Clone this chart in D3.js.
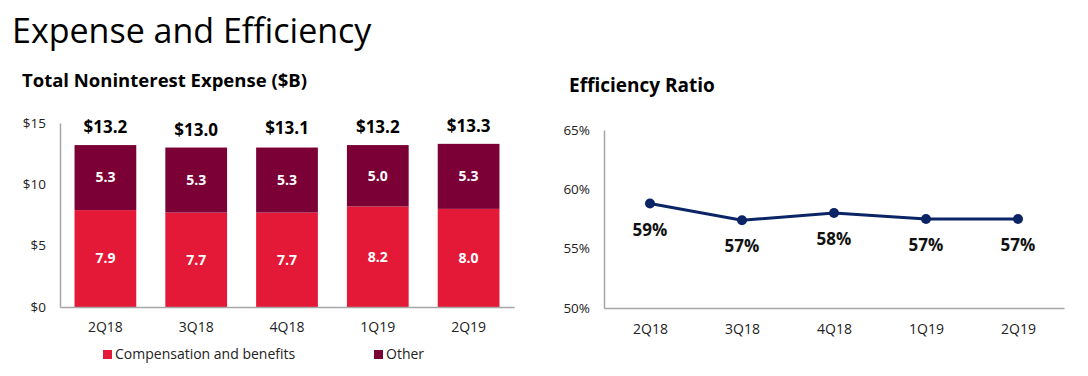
<!DOCTYPE html>
<html>
<head>
<meta charset="utf-8">
<script src="https://cdn.jsdelivr.net/npm/d3@7"></script>
<style>
  body { margin: 0; background: #fff; }
  text { font-family: "Open Sans", "Noto Sans", sans-serif; }
</style>
</head>
<body>
<div id="chart"></div>
<script>
// DATA
const quarters = ["2Q18", "3Q18", "4Q18", "1Q19", "2Q19"]
const compensation = [7.9, 7.7, 7.7, 8.2, 8.0]
const other = [5.3, 5.3, 5.3, 5.0, 5.3]
const totals = [13.2, 13.0, 13.1, 13.2, 13.3]
const expenseTicks = [0, 5, 10, 15]
const efficiency = [58.8, 57.4, 58.0, 57.5, 57.5]
const efficiencyLabels = ["59%", "57%", "58%", "57%", "57%"]
const ratioTicks = [50, 55, 60, 65]

const width = 1088, height = 376
const red = "#e31937", maroon = "#7a0036", navy = "#0b2466", axisGrey = "#a6a6a6"

const svg = d3.select("#chart").append("svg")
  .attr("width", width)
  .attr("height", height)

// PAGE TITLE
svg.append("text")
  .attr("x", 12).attr("y", 43)
  .attr("font-size", 34)
  .attr("fill", "#000")
  .text("Expense and Efficiency")

// ---------- LEFT: stacked bars ----------
svg.append("text")
  .attr("x", 22).attr("y", 87)
  .attr("font-size", 18.5).attr("font-weight", "bold")
  .text("Total Noninterest Expense ($B)")

xBar = d3.scaleBand()
  .domain(quarters)
  .range([60, 514])
  .paddingInner(0.32)
  .paddingOuter(0.16)

yBar = d3.scaleLinear()
  .domain([0, 15])
  .range([307, 123])

const left = svg.append("g")

// bars
const rows = quarters.map((q, i) => ({q, comp: compensation[i], other: other[i], total: totals[i]}))

left.selectAll("rect.comp")
  .data(rows)
  .join("rect")
    .attr("class", "comp")
    .attr("x", d => xBar(d.q))
    .attr("y", d => yBar(d.comp))
    .attr("width", xBar.bandwidth())
    .attr("height", d => yBar(0) - yBar(d.comp))
    .attr("fill", red)

left.selectAll("rect.other")
  .data(rows)
  .join("rect")
    .attr("class", "other")
    .attr("x", d => xBar(d.q))
    .attr("y", d => yBar(d.comp + d.other))
    .attr("width", xBar.bandwidth())
    .attr("height", d => yBar(d.comp) - yBar(d.comp + d.other))
    .attr("fill", maroon)

// segment labels
left.selectAll("text.compLab")
  .data(rows)
  .join("text")
    .attr("x", d => xBar(d.q) + xBar.bandwidth() / 2)
    .attr("y", d => (yBar(0) + yBar(d.comp)) / 2)
    .attr("dy", "0.35em")
    .attr("text-anchor", "middle")
    .attr("font-size", 14).attr("font-weight", "bold")
    .attr("fill", "#fff")
    .text(d => d.comp.toFixed(1))

left.selectAll("text.otherLab")
  .data(rows)
  .join("text")
    .attr("x", d => xBar(d.q) + xBar.bandwidth() / 2)
    .attr("y", d => (yBar(d.comp) + yBar(d.comp + d.other)) / 2)
    .attr("dy", "0.35em")
    .attr("text-anchor", "middle")
    .attr("font-size", 14).attr("font-weight", "bold")
    .attr("fill", "#fff")
    .text(d => d.other.toFixed(1))

// total labels
left.selectAll("text.totLab")
  .data(rows)
  .join("text")
    .attr("x", d => xBar(d.q) + xBar.bandwidth() / 2)
    .attr("y", d => yBar(d.total) - 12)
    .attr("text-anchor", "middle")
    .attr("font-size", 17).attr("font-weight", "bold")
    .attr("fill", "#000")
    .text(d => "$" + d.total.toFixed(1))

// axes
left.append("g")
  .attr("transform", "translate(60,0)")
  .call(d3.axisLeft(yBar).tickValues(expenseTicks).tickSize(0).tickPadding(14).tickFormat(d => "$" + d))
  .call(g => g.select(".domain").attr("stroke", axisGrey).attr("stroke-width", 1.5))
  .selectAll("text").attr("font-size", 13.5).attr("fill", "#222")

left.append("g")
  .attr("transform", "translate(0,307)")
  .call(d3.axisBottom(xBar).tickSize(0).tickPadding(15))
  .call(g => g.select(".domain").attr("stroke", axisGrey).attr("stroke-width", 1.5))
  .selectAll("text").attr("font-size", 14).attr("fill", "#222")

// legend
const legendItems = [
  {label: "Compensation and benefits", color: red, x: 103},
  {label: "Other", color: maroon, x: 374}
]
const legend = left.selectAll("g.legend")
  .data(legendItems)
  .join("g")
    .attr("transform", d => `translate(${d.x},350)`)
legend.append("rect")
  .attr("width", 9).attr("height", 9)
  .attr("fill", d => d.color)
legend.append("text")
  .attr("x", 12).attr("y", 4.5).attr("dy", "0.35em")
  .attr("font-size", 14).attr("fill", "#222")
  .text(d => d.label)

// ---------- RIGHT: efficiency line ----------
svg.append("text")
  .attr("x", 569).attr("y", 92)
  .attr("font-size", 19).attr("font-weight", "bold")
  .text("Efficiency Ratio")

xLine = d3.scalePoint()
  .domain(quarters)
  .range([604, 1064])
  .padding(0.5)

yLine = d3.scaleLinear()
  .domain([50, 65])
  .range([308, 130])

const right = svg.append("g")

right.append("g")
  .attr("transform", "translate(604,0)")
  .call(d3.axisLeft(yLine).tickValues(ratioTicks).tickSize(0).tickPadding(14).tickFormat(d => d + "%"))
  .call(g => g.select(".domain").attr("stroke", axisGrey).attr("stroke-width", 1.5))
  .selectAll("text").attr("font-size", 13.5).attr("fill", "#222")

right.append("g")
  .attr("transform", "translate(0,308)")
  .call(d3.axisBottom(xLine).tickSize(0).tickPadding(16))
  .call(g => g.select(".domain").attr("stroke", axisGrey).attr("stroke-width", 1.5))
  .selectAll("text").attr("font-size", 14).attr("fill", "#222")

const pts = quarters.map((q, i) => ({q, v: efficiency[i], label: efficiencyLabels[i]}))

right.append("path")
  .datum(pts)
  .attr("fill", "none")
  .attr("stroke", navy)
  .attr("stroke-width", 3)
  .attr("d", d3.line().x(d => xLine(d.q)).y(d => yLine(d.v)))

right.selectAll("circle")
  .data(pts)
  .join("circle")
    .attr("cx", d => xLine(d.q))
    .attr("cy", d => yLine(d.v))
    .attr("r", 5)
    .attr("fill", navy)

right.selectAll("text.ptLab")
  .data(pts)
  .join("text")
    .attr("x", d => xLine(d.q))
    .attr("y", d => yLine(d.v) + 26)
    .attr("dy", "0.35em")
    .attr("text-anchor", "middle")
    .attr("font-size", 17).attr("font-weight", "bold")
    .attr("fill", "#111")
    .text(d => d.label)
</script>
</body>
</html>
